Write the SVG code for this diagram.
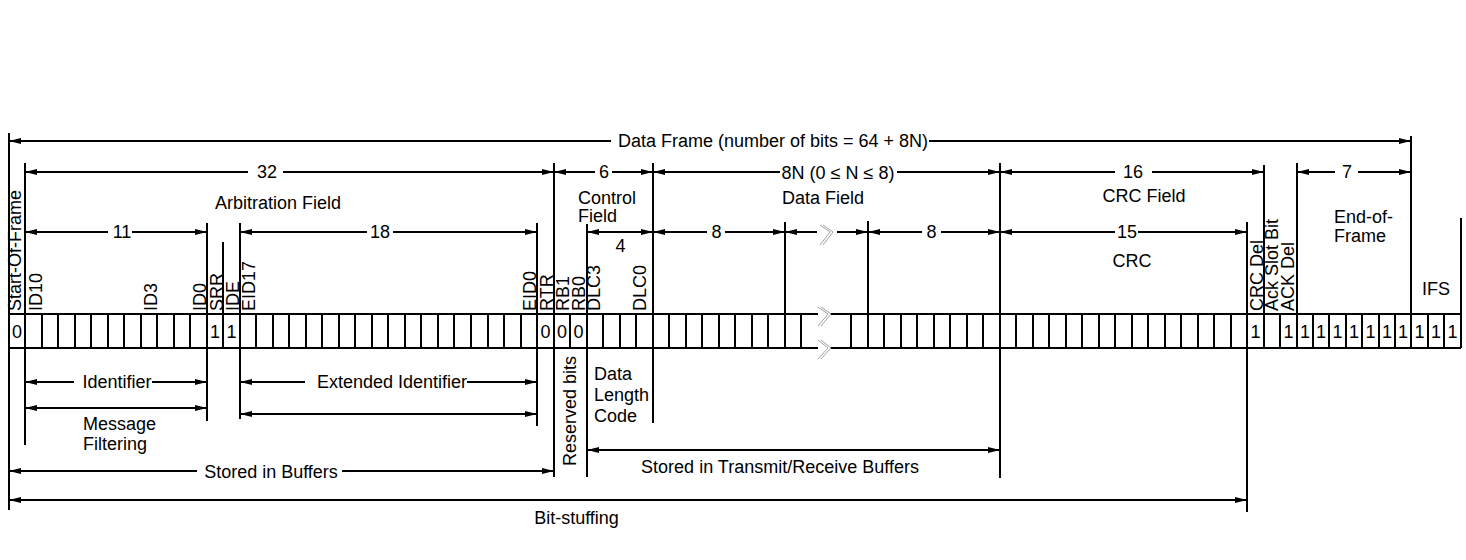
<svg xmlns="http://www.w3.org/2000/svg" width="1466" height="560" viewBox="0 0 1466 560">
<style>
.ln{stroke:#000;stroke-width:2;fill:none}
.ar{stroke:#000;stroke-width:2;fill:none}
.zz{stroke:#a0a0a0;stroke-width:1;fill:none}
text{font-family:"Liberation Sans",Arial,sans-serif;font-size:18px;fill:#000}
.m{text-anchor:middle}
.d{font-size:18px;text-anchor:middle}
</style>
<defs>
<marker id="ah" viewBox="0 0 12 6" refX="12" refY="3" markerWidth="12" markerHeight="6" markerUnits="userSpaceOnUse" orient="auto-start-reverse"><path d="M0,0 L12,3 L0,6 z" fill="#000"/></marker>
</defs>
<rect width="1466" height="560" fill="#fff"/>

<g id="bit-row">
<path class="ln" d="M9,314H818M830,314H1461M9,348H818M830,348H1461"/>
<path class="ln" d="M25,314V348M42,314V348M58,314V348M75,314V348M91,314V348M108,314V348M124,314V348M141,314V348M157,314V348M174,314V348M190,314V348M207,314V348M223,314V348M240,314V348M256,314V348M273,314V348M289,314V348M306,314V348M322,314V348M339,314V348M355,314V348M372,314V348M388,314V348M405,314V348M421,314V348M438,314V348M454,314V348M471,314V348M488,314V348M504,314V348M521,314V348M537,314V348M554,314V348M570,314V348M587,314V348M603,314V348M620,314V348M636,314V348M653,314V348M669,314V348M686,314V348M702,314V348M719,314V348M735,314V348M752,314V348M768,314V348M785,314V348M801,314V348M851,314V348M868,314V348M884,314V348M901,314V348M917,314V348M934,314V348M950,314V348M967,314V348M983,314V348M1000,314V348M1016,314V348M1033,314V348M1049,314V348M1066,314V348M1082,314V348M1099,314V348M1115,314V348M1132,314V348M1148,314V348M1165,314V348M1181,314V348M1198,314V348M1214,314V348M1231,314V348M1247,314V348M1264,314V348M1280,314V348M1297,314V348M1313,314V348M1329,314V348M1346,314V348M1362,314V348M1379,314V348M1395,314V348M1411,314V348M1428,314V348M1444,314V348"/>
<path class="zz" d="M818,307L828,314L818,326M821,307L831,314L821,326M818,340L828,348L818,359M821,340L831,348L821,359"/>
<text class="d" x="17" y="338">0</text>
<text class="d" x="215" y="338">1</text>
<text class="d" x="231.5" y="338">1</text>
<text class="d" x="545.5" y="338">0</text>
<text class="d" x="562" y="338">0</text>
<text class="d" x="578.5" y="338">0</text>
<text class="d" x="1255.5" y="338">1</text>
<text class="d" x="1288.5" y="338">1</text>
<text class="d" x="1305" y="338">1</text>
<text class="d" x="1321" y="338">1</text>
<text class="d" x="1337.5" y="338">1</text>
<text class="d" x="1354" y="338">1</text>
<text class="d" x="1370.5" y="338">1</text>
<text class="d" x="1387" y="338">1</text>
<text class="d" x="1403" y="338">1</text>
<text class="d" x="1419.5" y="338">1</text>
<text class="d" x="1436" y="338">1</text>
<text class="d" x="1452.5" y="338">1</text>
</g>

<g id="bit-labels">
<text x="21" y="311" transform="rotate(-90 21 311)">Start-Of-Frame</text>
<text x="41.5" y="311" transform="rotate(-90 41.5 311)">ID10</text>
<text x="156.5" y="311" transform="rotate(-90 156.5 311)">ID3</text>
<text x="206" y="311" transform="rotate(-90 206 311)">ID0</text>
<text x="222.5" y="311" transform="rotate(-90 222.5 311)">SRR</text>
<text x="239" y="311" transform="rotate(-90 239 311)">IDE</text>
<text x="255" y="311" transform="rotate(-90 255 311)">EID17</text>
<text x="536" y="311" transform="rotate(-90 536 311)">EID0</text>
<text x="553" y="311" transform="rotate(-90 553 311)">RTR</text>
<text x="569" y="311" transform="rotate(-90 569 311)">RB1</text>
<text x="585" y="311" transform="rotate(-90 585 311)">RB0</text>
<text x="600" y="311" transform="rotate(-90 600 311)">DLC3</text>
<text x="646" y="311" transform="rotate(-90 646 311)">DLC0</text>
<text x="1262.5" y="311" transform="rotate(-90 1262.5 311)">CRC Del</text>
<text x="1278" y="311" transform="rotate(-90 1278 311)">Ack Slot Bit</text>
<text x="1294" y="311" transform="rotate(-90 1294 311)">ACK Del</text>
</g>

<g id="field-labels">
<text class="m" x="773" y="147">Data Frame (number of bits = 64 + 8N)</text>
<text class="m" x="267" y="178">32</text>
<text class="m" x="278" y="209">Arbitration Field</text>
<text class="m" x="604" y="178">6</text>
<text x="578" y="204">Control</text>
<text x="578" y="222">Field</text>
<text class="m" x="620.5" y="252">4</text>
<text class="m" x="838" y="179">8N (0 ≤ N ≤ 8)</text>
<text class="m" x="823" y="204">Data Field</text>
<text class="m" x="716.5" y="238">8</text>
<text class="m" x="931.5" y="238">8</text>
<text class="m" x="1133" y="178">16</text>
<text class="m" x="1144" y="202">CRC Field</text>
<text class="m" x="1127" y="238">15</text>
<text class="m" x="1132" y="267">CRC</text>
<text class="m" x="1347" y="178">7</text>
<text x="1334" y="223">End-of-</text>
<text x="1334" y="242">Frame</text>
<text class="m" x="1436" y="295">IFS</text>
<text class="m" x="122" y="238">11</text>
<text class="m" x="380" y="238">18</text>
</g>

<g id="bottom-labels">
<text class="m" x="117" y="388">Identifier</text>
<text x="83" y="430">Message</text>
<text x="83" y="450">Filtering</text>
<text class="m" x="392" y="388">Extended Identifier</text>
<text class="m" x="271" y="478">Stored in Buffers</text>
<text x="576" y="466" transform="rotate(-90 576 466)">Reserved bits</text>
<text x="594" y="380">Data</text>
<text x="594" y="401">Length</text>
<text x="594" y="422">Code</text>
<text class="m" x="780" y="473">Stored in Transmit/Receive Buffers</text>
<text class="m" x="576.5" y="524">Bit-stuffing</text>
</g>

<g id="connectors">
<path class="ln" d="M9,133V510M25,163V445M207,223V421M223,242V314M240,223V419M537,223V426M554,163V477M587,224V477M653,163V423M785,222V314M868,221V314M1000,163V478M1247,222V512M1264,165V314M1297,163V314M1411,136V314M1461,218V348"/>
<path class="ar" d="M9,141H611" marker-start="url(#ah)"/>
<path class="ar" d="M929,141H1411" marker-end="url(#ah)"/>
<path class="ar" d="M25,172H248" marker-start="url(#ah)"/>
<path class="ar" d="M283,172H554" marker-end="url(#ah)"/>
<path class="ar" d="M554,172H595" marker-start="url(#ah)"/>
<path class="ar" d="M612,172H653" marker-end="url(#ah)"/>
<path class="ar" d="M653,172H780" marker-start="url(#ah)"/>
<path class="ar" d="M897,172H1000" marker-end="url(#ah)"/>
<path class="ar" d="M1000,172H1115" marker-start="url(#ah)"/>
<path class="ar" d="M1152,172H1264" marker-end="url(#ah)"/>
<path class="ar" d="M1297,172H1335" marker-start="url(#ah)"/>
<path class="ar" d="M1358,172H1411" marker-end="url(#ah)"/>
<path class="ar" d="M25,232H108" marker-start="url(#ah)"/>
<path class="ar" d="M132,232H207" marker-end="url(#ah)"/>
<path class="ar" d="M240,232H367" marker-start="url(#ah)"/>
<path class="ar" d="M393,232H537" marker-end="url(#ah)"/>
<path class="ar" d="M587,232H653" marker-start="url(#ah)" marker-end="url(#ah)"/>
<path class="ar" d="M653,232H707" marker-start="url(#ah)"/>
<path class="ar" d="M725,232H785" marker-end="url(#ah)"/>
<path class="ar" d="M785,232H817" marker-start="url(#ah)"/>
<path class="ar" d="M837,232H868" marker-end="url(#ah)"/>
<path class="zz" d="M820,225L830,232L820,245M823,225L833,232L823,245"/>
<path class="ar" d="M868,232H922" marker-start="url(#ah)"/>
<path class="ar" d="M941,232H1000" marker-end="url(#ah)"/>
<path class="ar" d="M1000,232H1115" marker-start="url(#ah)"/>
<path class="ar" d="M1138,232H1247" marker-end="url(#ah)"/>
<path class="ar" d="M25,382H74" marker-start="url(#ah)"/>
<path class="ar" d="M152,382H207" marker-end="url(#ah)"/>
<path class="ar" d="M25,408H207" marker-start="url(#ah)" marker-end="url(#ah)"/>
<path class="ar" d="M240,382H305" marker-start="url(#ah)"/>
<path class="ar" d="M467,382H537" marker-end="url(#ah)"/>
<path class="ar" d="M240,414H537" marker-start="url(#ah)" marker-end="url(#ah)"/>
<path class="ar" d="M9,471H197" marker-start="url(#ah)"/>
<path class="ar" d="M342,471H554" marker-end="url(#ah)"/>
<path class="ar" d="M587,450H1000" marker-start="url(#ah)" marker-end="url(#ah)"/>
<path class="ar" d="M9,500H1247" marker-start="url(#ah)" marker-end="url(#ah)"/>
</g>
</svg>
